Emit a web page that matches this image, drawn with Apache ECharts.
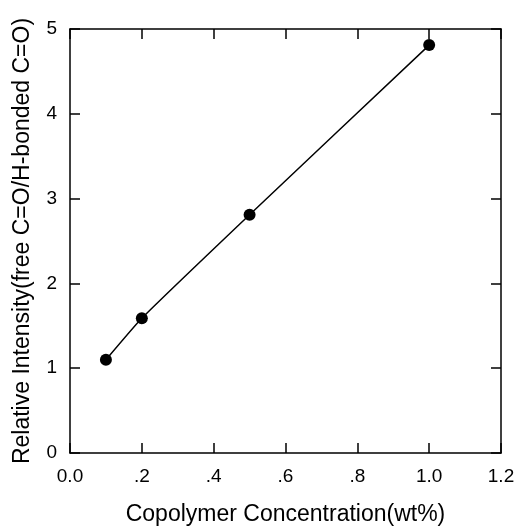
<!DOCTYPE html>
<html><head><meta charset="utf-8">
<script src="https://cdn.jsdelivr.net/npm/echarts@6/dist/echarts.min.js"></script>
<style>html,body{margin:0;padding:0;background:#fff}#c{width:519px;height:531px}</style>
</head><body><div id="c"></div>
<script>
var concentration = [0.1, 0.2, 0.5, 1.0];
var intensity = [1.1, 1.59, 2.81, 4.81];
var xTickLabels = {0: '0.0', 0.2: '.2', 0.4: '.4', 0.6: '.6', 0.8: '.8', 1: '1.0', 1.2: '1.2'};
var xTitle = 'Copolymer Concentration(wt%)';
var yTitle = 'Relative Intensity(free C=O/H-bonded C=O)';

var pts = concentration.map(function(x, i){ return [x, intensity[i]]; });
var font = 'Liberation Sans, Arial, sans-serif';
var lineStyle = {color: '#000', width: 1.5};
function mirror(extra){
  return Object.assign({
    type: 'value',
    axisLine: {show: true, onZero: false, lineStyle: lineStyle},
    axisTick: {show: true, inside: true, length: 10, lineStyle: lineStyle},
    axisLabel: {show: false}, splitLine: {show: false}
  }, extra);
}
var chart = echarts.init(document.getElementById('c'));
chart.setOption({
  animation: false,
  grid: {left: 70, top: 29, width: 431, height: 430, containLabel: false},
  xAxis: [{
    type: 'value', min: 0, max: 1.2, interval: 0.2, position: 'bottom',
    name: xTitle, nameLocation: 'middle', nameGap: 50,
    nameTextStyle: {fontFamily: font, fontSize: 23, color: '#000'},
    axisLine: {show: true, onZero: false, lineStyle: lineStyle},
    axisTick: {show: true, inside: true, length: 10, lineStyle: lineStyle},
    axisLabel: {fontFamily: font, fontSize: 19, color: '#000', margin: 14,
      formatter: function(v){ var k = Math.round(v*10)/10; return xTickLabels[k] !== undefined ? xTickLabels[k] : ''; }},
    splitLine: {show: false}
  }, mirror({min: 0, max: 1.2, interval: 0.2, position: 'top'})],
  yAxis: [{
    type: 'value', min: 0, max: 5, interval: 1, position: 'left',
    name: yTitle, nameLocation: 'middle', nameGap: 36,
    nameTextStyle: {fontFamily: font, fontSize: 23, color: '#000'},
    axisLine: {show: true, onZero: false, lineStyle: lineStyle},
    axisTick: {show: true, inside: true, length: 10, lineStyle: lineStyle},
    axisLabel: {fontFamily: font, fontSize: 19, color: '#000', margin: 13},
    splitLine: {show: false}
  }, mirror({min: 0, max: 5, interval: 1, position: 'right'})],
  series: [{
    type: 'line', data: pts, smooth: 0.15,
    symbol: 'circle', symbolSize: 12,
    itemStyle: {color: '#000'},
    lineStyle: {color: '#000', width: 1.5}
  }]
});
</script></body></html>
